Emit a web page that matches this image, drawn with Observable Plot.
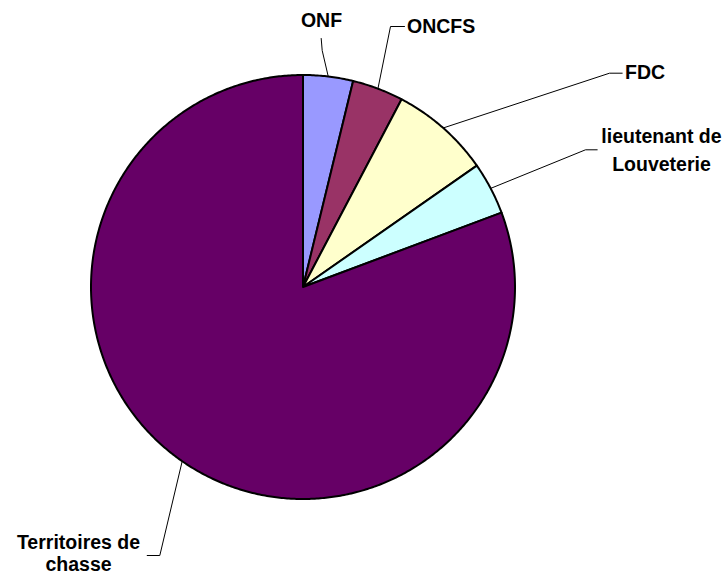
<!DOCTYPE html>
<html><head><meta charset="utf-8">
<script src="https://cdn.jsdelivr.net/npm/d3@7"></script>
<script src="https://cdn.jsdelivr.net/npm/@observablehq/plot@0.6"></script>
<style>html,body{margin:0;padding:0;background:#fff}</style>
</head><body><div id="chart"></div>
<script>
// Data
const categories = ["ONF", "ONCFS", "FDC", "lieutenant de Louveterie", "Territoires de chasse"];
const values = [3.8, 3.9, 7.6, 4.0, 80.7];
const colors = ["#9999FF", "#993366", "#FFFFCC", "#CCFFFF", "#660066"];
const labelTexts = ["ONF", "ONCFS", "FDC", "lieutenant de\nLouveterie", "Territoires de\nchasse"];

// Layout (ty = baseline of last line)
const W = 728, H = 575, CX = 302.5, CY = 286.5, R = 212;
const labelLayout = [
  {path: [[321.7, 50], [320.7, 38]], tx: 321, ty: 26, anchor: "middle", lh: 1.2},
  {path: [[390, 26], [404, 26]], tx: 406.5, ty: 32.7, anchor: "start", lh: 1.2},
  {path: [[609, 72.7], [621.7, 72.7]], tx: 624.5, ty: 78.7, anchor: "start", lh: 1.2},
  {path: [[585, 149.3], [596.7, 149.3]], tx: 661, ty: 170, anchor: "middle", lh: 1.4},
  {path: [[159.3, 555], [146.7, 555]], tx: 78, ty: 570.5, anchor: "middle", lh: 1.15}
];

const pt = a => [CX + R * Math.sin(a), CY - R * Math.cos(a)];
const arcs = d3.pie().sort(null).value(d => d)(values);

const sliceMarks = arcs.map((a, i) => {
  const n = Math.max(2, Math.ceil((a.endAngle - a.startAngle) / (Math.PI / 360)));
  const pts = [[CX, CY]];
  for (let k = 0; k <= n; k++) pts.push(pt(a.startAngle + (a.endAngle - a.startAngle) * k / n));
  pts.push([CX, CY]);
  return Plot.line(pts, {x: d => d[0], y: d => d[1], fill: colors[i], stroke: "black",
    strokeWidth: 2, strokeLinejoin: "round", curve: "linear"});
});

const leaderMarks = arcs.map((a, i) => {
  const mid = (a.startAngle + a.endAngle) / 2;
  const pts = [pt(mid), ...labelLayout[i].path];
  return Plot.line(pts, {x: d => d[0], y: d => d[1], stroke: "black", strokeWidth: 1, curve: "linear"});
});

const textMarks = labelTexts.map((t, i) => Plot.text([t], {
  x: () => labelLayout[i].tx, y: () => labelLayout[i].ty, text: d => d,
  textAnchor: labelLayout[i].anchor, lineAnchor: "bottom", lineHeight: labelLayout[i].lh,
  fontSize: 19.5, fontWeight: "bold", fill: "black"
}));

const chart = Plot.plot({
  width: W, height: H, margin: 0,
  x: {domain: [0, W], range: [0, W], axis: null},
  y: {domain: [0, H], range: [0, H], axis: null},
  style: {fontFamily: "'Liberation Sans', Arial, sans-serif", background: "white"},
  marks: [...leaderMarks, ...sliceMarks, ...textMarks]
});
document.getElementById("chart").appendChild(chart);
</script>
</body></html>
